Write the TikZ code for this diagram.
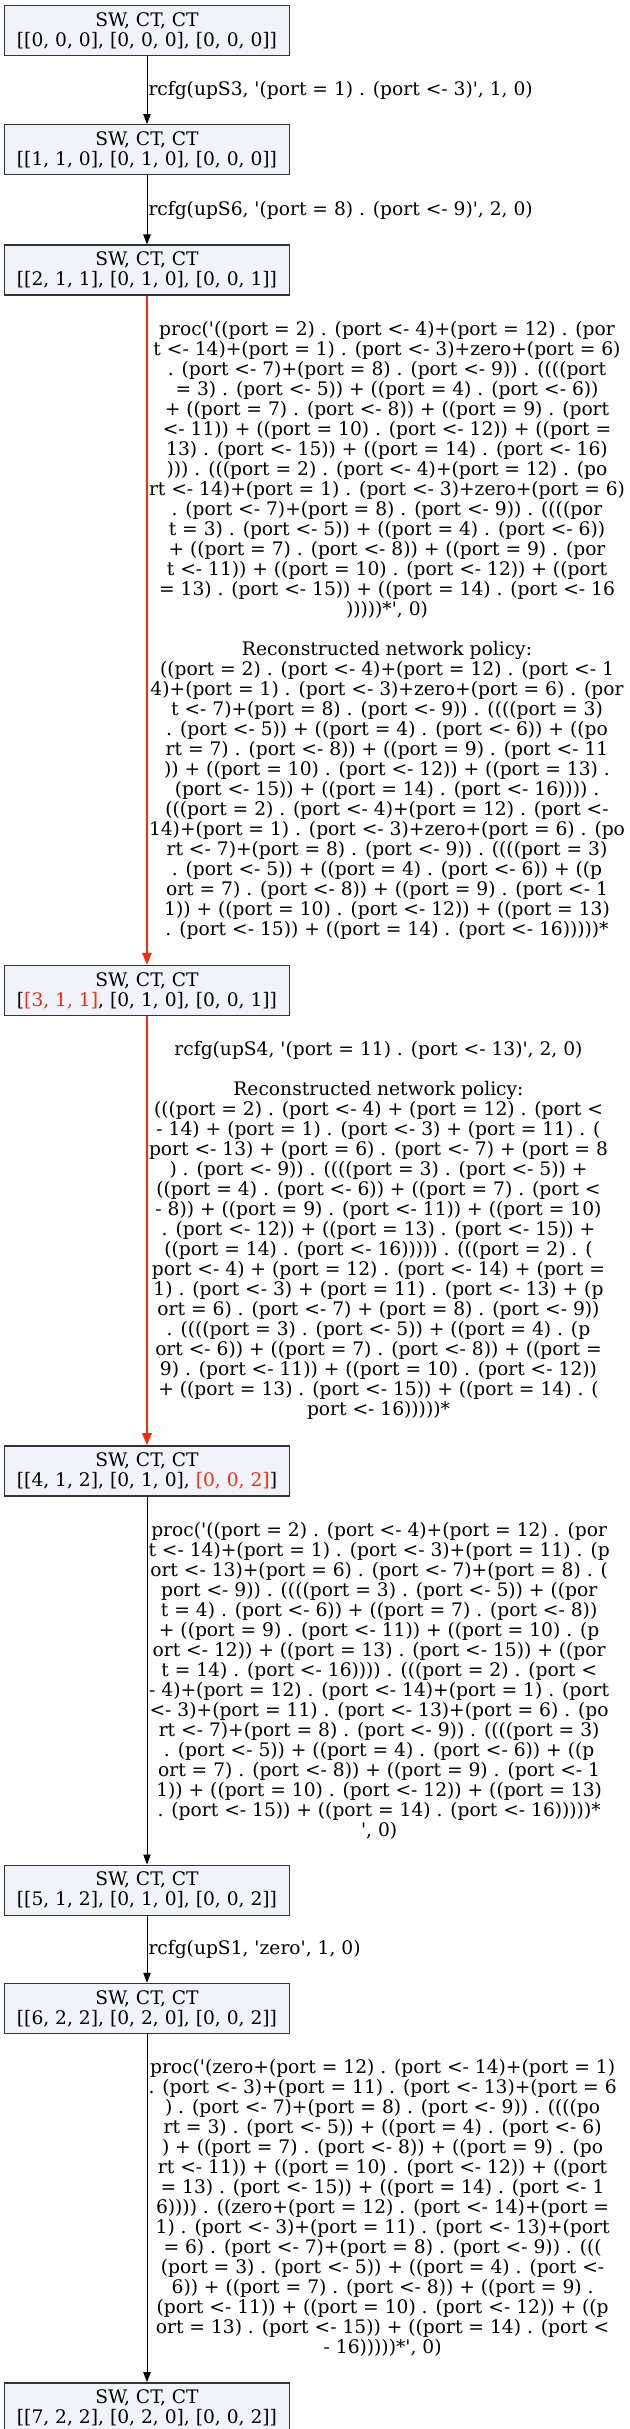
\documentclass[tikz,border=0pt]{standalone}
\usepackage{fontspec}
\setmainfont{DejaVu Serif}[Ligatures=TeXOff]
\usepackage{tikz}
\usetikzlibrary{shapes, arrows.meta, positioning, calc}
\usepackage{xcolor}
\definecolor{hl}{HTML}{FF2A0A}
\definecolor{statefill}{HTML}{F0F3FA}
\definecolor{stateline}{HTML}{333333}
\newcommand{\cfg}[1]{SW, CT, CT\\{}#1}

\begin{document}
\begin{tikzpicture}[node distance=51pt,
        state/.style={rectangle, draw=stateline, fill=statefill, line width=1pt, minimum width=213.75pt, minimum height=37.5pt, inner sep=2pt, align=center, font=\fontsize{14pt}{15pt}\selectfont},
        lbl/.style={anchor=west, inner sep=0pt, xshift=0.75pt, align=center, font=\fontsize{14pt}{15pt}\selectfont},
        flow/.style={-{Triangle[length=7.5pt, width=5.5pt]}, line width=0.75pt},
        hot/.style={-{Triangle[length=9pt, width=7pt]}, draw=hl, line width=1.5pt}
    ]
        \useasboundingbox (0,0) rectangle (472.5pt,-1821.75pt);

        % Nodes
        \node [state] (s1) at (110.25pt,-22.875pt) {\cfg{[[0, 0, 0], [0, 0, 0], [0, 0, 0]]}};
        \node [state, below=of s1] (s2) {\cfg{[[1, 1, 0], [0, 1, 0], [0, 0, 0]]}};
        \node [state, below=51.75pt of s2] (s3) {\cfg{[[2, 1, 1], [0, 1, 0], [0, 0, 1]]}};
        \node [state, below=501.75pt of s3] (s4) {\cfg{[\textcolor{hl}{[3, 1, 1]}, [0, 1, 0], [0, 0, 1]]}};
        \node [state, below=321.75pt of s4] (s5) {\cfg{[[4, 1, 2], [0, 1, 0], \textcolor{hl}{[0, 0, 2]}]}};
        \node [state, below=276pt of s5] (s6) {\cfg{[[5, 1, 2], [0, 1, 0], [0, 0, 2]]}};
        \node [state, below=50.25pt of s6] (s7) {\cfg{[[6, 2, 2], [0, 2, 0], [0, 0, 2]]}};
        \node [state, below=261pt of s7] (s8) {\cfg{[[7, 2, 2], [0, 2, 0], [0, 0, 2]]}};

        % Arrows
        \draw [flow] (s1) -- node[lbl] (l1) {rcfg(upS3, '(port = 1) . (port <- 3)', 1, 0)} (s2);
        \draw [flow] (s2) -- node[lbl] (l2) {rcfg(upS6, '(port = 8) . (port <- 9)', 2, 0)} (s3);
        \draw [hot] (s3) -- node[lbl] (l3) {proc('((port = 2) . (port <- 4)+(port = 12) . (por\\
t <- 14)+(port = 1) . (port <- 3)+zero+(port = 6)\\
. (port <- 7)+(port = 8) . (port <- 9)) . ((((port\\
= 3) . (port <- 5)) + ((port = 4) . (port <- 6))\\
+ ((port = 7) . (port <- 8)) + ((port = 9) . (port\\
<- 11)) + ((port = 10) . (port <- 12)) + ((port =\\
13) . (port <- 15)) + ((port = 14) . (port <- 16)\\
))) . (((port = 2) . (port <- 4)+(port = 12) . (po\\
rt <- 14)+(port = 1) . (port <- 3)+zero+(port = 6)\\
. (port <- 7)+(port = 8) . (port <- 9)) . ((((por\\
t = 3) . (port <- 5)) + ((port = 4) . (port <- 6))\\
+ ((port = 7) . (port <- 8)) + ((port = 9) . (por\\
t <- 11)) + ((port = 10) . (port <- 12)) + ((port\\
= 13) . (port <- 15)) + ((port = 14) . (port <- 16\\
)))))*', 0)\\[15pt]
Reconstructed network policy:\\
((port = 2) . (port <- 4)+(port = 12) . (port <- 1\\
4)+(port = 1) . (port <- 3)+zero+(port = 6) . (por\\
t <- 7)+(port = 8) . (port <- 9)) . ((((port = 3)\\
. (port <- 5)) + ((port = 4) . (port <- 6)) + ((po\\
rt = 7) . (port <- 8)) + ((port = 9) . (port <- 11\\
)) + ((port = 10) . (port <- 12)) + ((port = 13) .\\
(port <- 15)) + ((port = 14) . (port <- 16)))) .\\
(((port = 2) . (port <- 4)+(port = 12) . (port <-\\
14)+(port = 1) . (port <- 3)+zero+(port = 6) . (po\\
rt <- 7)+(port = 8) . (port <- 9)) . ((((port = 3)\\
. (port <- 5)) + ((port = 4) . (port <- 6)) + ((p\\
ort = 7) . (port <- 8)) + ((port = 9) . (port <- 1\\
1)) + ((port = 10) . (port <- 12)) + ((port = 13)\\
. (port <- 15)) + ((port = 14) . (port <- 16)))))*} (s4);
        \draw [hot] (s4) -- node[lbl] (l4) {rcfg(upS4, '(port = 11) . (port <- 13)', 2, 0)\\[15pt]
Reconstructed network policy:\\
(((port = 2) . (port <- 4) + (port = 12) . (port <\\
- 14) + (port = 1) . (port <- 3) + (port = 11) . (\\
port <- 13) + (port = 6) . (port <- 7) + (port = 8\\
) . (port <- 9)) . ((((port = 3) . (port <- 5)) +\\
((port = 4) . (port <- 6)) + ((port = 7) . (port <\\
- 8)) + ((port = 9) . (port <- 11)) + ((port = 10)\\
. (port <- 12)) + ((port = 13) . (port <- 15)) +\\
((port = 14) . (port <- 16))))) . (((port = 2) . (\\
port <- 4) + (port = 12) . (port <- 14) + (port =\\
1) . (port <- 3) + (port = 11) . (port <- 13) + (p\\
ort = 6) . (port <- 7) + (port = 8) . (port <- 9))\\
. ((((port = 3) . (port <- 5)) + ((port = 4) . (p\\
ort <- 6)) + ((port = 7) . (port <- 8)) + ((port =\\
9) . (port <- 11)) + ((port = 10) . (port <- 12))\\
+ ((port = 13) . (port <- 15)) + ((port = 14) . (\\
port <- 16)))))*} (s5);
        \draw [flow] (s5) -- node[lbl] (l5) {proc('((port = 2) . (port <- 4)+(port = 12) . (por\\
t <- 14)+(port = 1) . (port <- 3)+(port = 11) . (p\\
ort <- 13)+(port = 6) . (port <- 7)+(port = 8) . (\\
port <- 9)) . ((((port = 3) . (port <- 5)) + ((por\\
t = 4) . (port <- 6)) + ((port = 7) . (port <- 8))\\
+ ((port = 9) . (port <- 11)) + ((port = 10) . (p\\
ort <- 12)) + ((port = 13) . (port <- 15)) + ((por\\
t = 14) . (port <- 16)))) . (((port = 2) . (port <\\
- 4)+(port = 12) . (port <- 14)+(port = 1) . (port\\
<- 3)+(port = 11) . (port <- 13)+(port = 6) . (po\\
rt <- 7)+(port = 8) . (port <- 9)) . ((((port = 3)\\
. (port <- 5)) + ((port = 4) . (port <- 6)) + ((p\\
ort = 7) . (port <- 8)) + ((port = 9) . (port <- 1\\
1)) + ((port = 10) . (port <- 12)) + ((port = 13)\\
. (port <- 15)) + ((port = 14) . (port <- 16)))))*\\
', 0)} (s6);
        \draw [flow] (s6) -- node[lbl] (l6) {rcfg(upS1, 'zero', 1, 0)} (s7);
        \draw [flow] (s7) -- node[lbl] (l7) {proc('(zero+(port = 12) . (port <- 14)+(port = 1)\\
. (port <- 3)+(port = 11) . (port <- 13)+(port = 6\\
) . (port <- 7)+(port = 8) . (port <- 9)) . ((((po\\
rt = 3) . (port <- 5)) + ((port = 4) . (port <- 6)\\
) + ((port = 7) . (port <- 8)) + ((port = 9) . (po\\
rt <- 11)) + ((port = 10) . (port <- 12)) + ((port\\
= 13) . (port <- 15)) + ((port = 14) . (port <- 1\\
6)))) . ((zero+(port = 12) . (port <- 14)+(port =\\
1) . (port <- 3)+(port = 11) . (port <- 13)+(port\\
= 6) . (port <- 7)+(port = 8) . (port <- 9)) . (((\\
(port = 3) . (port <- 5)) + ((port = 4) . (port <-\\
6)) + ((port = 7) . (port <- 8)) + ((port = 9) .\\
(port <- 11)) + ((port = 10) . (port <- 12)) + ((p\\
ort = 13) . (port <- 15)) + ((port = 14) . (port <\\
- 16)))))*', 0)} (s8);
    \end{tikzpicture}
\end{document}
